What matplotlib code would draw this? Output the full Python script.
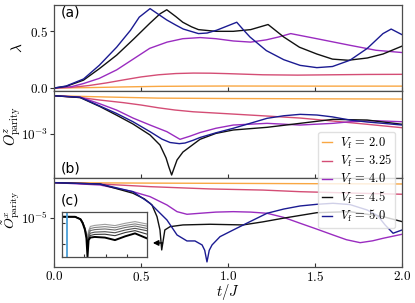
import matplotlib
matplotlib.use("Agg")
import matplotlib.pyplot as plt
import numpy as np
from matplotlib.ticker import NullLocator

plt.rcParams["mathtext.fontset"] = "cm"
plt.rcParams["axes.edgecolor"] = "0.3"
plt.rcParams["axes.linewidth"] = 0.9

# ---- data ----
v_labels = ["2.0", "3.25", "4.0", "4.5", "5.0"]
colors = ["#f9a743", "#d44d75", "#9a2cc0", "#111111", "#1b1b92"]

# (a) lambda
lam_t_20 = [0, 0.2, 0.4, 0.6, 0.8, 1.0, 1.5, 2.0]
lam_20 = [0, 0.004, 0.01, 0.015, 0.017, 0.018, 0.017, 0.017]
lam_t_325 = [0, 0.1, 0.2, 0.3, 0.4, 0.5, 0.6, 0.7, 0.8, 0.9, 1.0, 1.2, 1.4, 1.6, 1.8, 2.0]
lam_325 = [0, 0.006, 0.022, 0.045, 0.072, 0.098, 0.117, 0.128, 0.132, 0.131, 0.127, 0.117,
           0.114, 0.117, 0.12, 0.121]
lam_t_40 = [0, 0.1, 0.17, 0.26, 0.36, 0.46, 0.55, 0.65, 0.74, 0.84, 0.93, 1.03, 1.13, 1.22,
            1.29, 1.36, 1.51, 1.70, 1.85, 2.0]
lam_40 = [0, 0.012, 0.04, 0.085, 0.16, 0.26, 0.35, 0.405, 0.435, 0.445, 0.435, 0.415, 0.405,
          0.425, 0.45, 0.48, 0.435, 0.377, 0.333, 0.313]
lam_t_45 = [0, 0.07, 0.17, 0.26, 0.36, 0.46, 0.55, 0.61, 0.648, 0.70, 0.74, 0.79, 0.83, 0.93,
            1.03, 1.13, 1.23, 1.32, 1.41, 1.51, 1.60, 1.69, 1.80, 1.89, 2.0]
lam_45 = [0, 0.015, 0.07, 0.17, 0.29, 0.435, 0.57, 0.655, 0.69, 0.63, 0.58, 0.54, 0.515, 0.50,
          0.50, 0.515, 0.56, 0.45, 0.36, 0.30, 0.255, 0.245, 0.265, 0.30, 0.37]
lam_t_50 = [0, 0.07, 0.17, 0.26, 0.36, 0.44, 0.49, 0.552, 0.60, 0.648, 0.70, 0.743, 0.83, 0.88,
            0.935, 1.05, 1.09, 1.126, 1.22, 1.32, 1.414, 1.51, 1.60, 1.70, 1.80, 1.89, 1.937, 2.0]
lam_50 = [0, 0.018, 0.08, 0.2, 0.36, 0.51, 0.625, 0.70, 0.65, 0.60, 0.555, 0.52, 0.48, 0.485,
          0.51, 0.58, 0.51, 0.45, 0.33, 0.25, 0.20, 0.18, 0.19, 0.245, 0.35, 0.48, 0.52, 0.47]

# (b) log10 of O^z_parity
oz_t_20 = [0, 0.3, 0.6, 1.0, 1.5, 2.0]
oz_20 = [-2.328, -2.35, -2.37, -2.377, -2.382, -2.386]
oz_t_325 = [0, 0.15, 0.264, 0.4, 0.5, 0.6, 0.695, 0.8, 0.897, 1.0, 1.224, 1.414, 1.603, 1.8, 2.0]
oz_325 = [-2.328, -2.36, -2.404, -2.45, -2.491, -2.54, -2.579, -2.61, -2.627, -2.645, -2.685,
          -2.72, -2.773, -2.83, -2.89]
oz_t_40 = [0, 0.15, 0.264, 0.36, 0.454, 0.552, 0.649, 0.724, 0.78, 0.839, 0.93, 1.03, 1.224,
           1.414, 1.603, 1.70, 1.845, 2.0]
oz_40 = [-2.328, -2.351, -2.47, -2.58, -2.72, -2.843, -2.96, -3.094, -3.04, -2.975, -2.90,
         -2.843, -2.813, -2.843, -2.813, -2.785, -2.767, -2.785]
oz_t_45 = [0, 0.15, 0.264, 0.36, 0.454, 0.552, 0.609, 0.644, 0.66, 0.676, 0.69, 0.707, 0.741,
           0.839, 0.93, 1.03, 1.224, 1.414, 1.603, 1.799, 2.0]
oz_45 = [-2.328, -2.36, -2.518, -2.67, -2.825, -3.018, -3.194, -3.422, -3.58, -3.721, -3.6,
         -3.457, -3.317, -3.094, -2.99, -2.93, -2.883, -2.813, -2.743, -2.755, -2.83]
oz_t_50 = [0, 0.15, 0.264, 0.36, 0.454, 0.552, 0.62, 0.667, 0.72, 0.753, 0.8, 0.839, 0.93, 1.03,
           1.13, 1.224, 1.32, 1.414, 1.511, 1.60, 1.70, 1.80, 1.891, 2.0]
oz_50 = [-2.328, -2.355, -2.509, -2.64, -2.785, -2.96, -3.09, -3.15, -3.17, -3.159, -3.11,
         -3.062, -2.98, -2.90, -2.81, -2.725, -2.68, -2.655, -2.667, -2.70, -2.755, -2.79,
         -2.813, -2.843]

# (c) log10 of tilde O^x_parity
ox_t_20 = [0, 0.5, 1.0, 1.5, 2.0]
ox_20 = [-4.367, -4.375, -4.38, -4.386, -4.391]
ox_t_325 = [0, 0.264, 0.552, 0.897, 1.2, 1.414, 1.7, 2.0]
ox_325 = [-4.367, -4.391, -4.439, -4.48, -4.50, -4.529, -4.553, -4.575]
ox_t_40 = [0, 0.264, 0.454, 0.552, 0.649, 0.707, 0.764, 0.839, 0.93, 1.03, 1.13, 1.224, 1.32,
           1.414, 1.51, 1.603, 1.68, 1.759, 1.83, 1.891, 2.0]
ox_40 = [-4.367, -4.409, -4.529, -4.618, -4.767, -4.887, -4.934, -4.916, -4.895, -4.887,
         -4.895, -4.916, -4.99, -5.095, -5.2, -5.305, -5.39, -5.443, -5.41, -5.364, -5.292]
ox_t_45 = [0, 0.264, 0.454, 0.52, 0.563, 0.592, 0.609, 0.619, 0.637, 0.667, 0.741, 0.897,
           1.086, 1.2, 1.316, 1.511, 1.70, 1.891, 2.0]
ox_45 = [-4.367, -4.391, -4.557, -4.659, -4.767, -4.977, -5.215, -5.573, -5.215, -5.156,
         -5.125, -5.113, -5.125, -5.07, -5.005, -4.905, -4.887, -4.977, -5.066]
ox_t_50 = [0, 0.264, 0.454, 0.552, 0.649, 0.707, 0.764, 0.81, 0.851, 0.866, 0.879, 0.892,
           0.908, 0.954, 1.03, 1.13, 1.224, 1.32, 1.414, 1.511, 1.603, 1.70, 1.799, 1.86,
           1.902, 1.948, 2.0]
ox_50 = [-4.367, -4.391, -4.529, -4.737, -5.036, -5.305, -5.412, -5.412, -5.484, -5.58,
         -5.788, -5.58, -5.484, -5.335, -5.215, -5.06, -4.916, -4.84, -4.785, -4.755, -4.737,
         -4.76, -4.857, -4.96, -5.125, -5.274, -5.215]

# inset (log10 values)
in_u = [0, 0.6, 0.85, 0.95, 1.05, 1.12, 1.17, 1.22, 1.3, 1.5, 1.97, 2.43, 2.9, 3.35, 3.88]
in_1 = [0.314, 0.31, 0.21, 0.06, -0.2, -0.45, -0.7, -0.35, -0.15, -0.1, -0.05, -0.11, 0.0, 0.08, -0.03]
in_2 = [0.314, 0.31, 0.21, 0.05, -0.22, -0.5, -0.8, -0.45, -0.25, -0.2, -0.16, -0.21, -0.1, -0.03, -0.13]
in_3 = [0.314, 0.31, 0.2, 0.04, -0.24, -0.55, -0.95, -0.55, -0.35, -0.3, -0.27, -0.32, -0.2, -0.13, -0.24]
in_4 = [0.314, 0.31, 0.2, 0.03, -0.26, -0.6, -1.1, -0.65, -0.47, -0.42, -0.40, -0.45, -0.32, -0.24, -0.35]
in_5 = [0.314, 0.31, 0.19, 0.02, -0.28, -0.65, -1.25, -0.75, -0.58, -0.53, -0.52, -0.59, -0.44, -0.35, -0.51]
in_k = [0.314, 0.31, 0.19, 0.0, -0.3, -0.7, -1.6, -0.8, -0.68, -0.65, -0.68, -0.80, -0.62, -0.48, -0.71]
in_marker_u = 0.23

x_ticks = [0.0, 0.5, 1.0, 1.5, 2.0]

lam_series = [(lam_t_20, lam_20), (lam_t_325, lam_325), (lam_t_40, lam_40),
              (lam_t_45, lam_45), (lam_t_50, lam_50)]
oz_series = [(oz_t_20, oz_20), (oz_t_325, oz_325), (oz_t_40, oz_40),
             (oz_t_45, oz_45), (oz_t_50, oz_50)]
ox_series = [(ox_t_20, ox_20), (ox_t_325, ox_325), (ox_t_40, ox_40),
             (ox_t_45, ox_45), (ox_t_50, ox_50)]

fig = plt.figure(figsize=(4.15, 3.03), dpi=100)
gs = fig.add_gridspec(3, 1, left=0.130, right=0.969, top=0.985, bottom=0.119,
                      hspace=0, height_ratios=[86.5, 86.7, 89.3])
ax_a = fig.add_subplot(gs[0])
ax_b = fig.add_subplot(gs[1], sharex=ax_a)
ax_c = fig.add_subplot(gs[2], sharex=ax_a)

handles = []
for (t, y), c in zip(lam_series, colors):
    ax_a.plot(t, y, color=c, lw=1.0)
for (t, y), c, lab in zip(oz_series, colors, v_labels):
    (h,) = ax_b.plot(t, 10.0 ** np.array(y), color=c, lw=1.0,
                     label=r"$V_{\rm f}\,=\,%s$" % lab)
    handles.append(h)
for (t, y), c in zip(ox_series, colors):
    ax_c.plot(t, 10.0 ** np.array(y), color=c, lw=1.0)

ax_a.set_ylim(-0.026, 0.736)
ax_a.set_yticks([0.0, 0.5])
ax_a.set_yticklabels([r"$0.0$", r"$0.5$"])

ax_b.set_yscale("log")
ax_b.set_ylim(10 ** -3.768, 10 ** -2.245)
ax_b.set_yticks([1e-3])
ax_b.set_yticklabels([r"$10^{-3}$"])

ax_c.set_yscale("log")
ax_c.set_ylim(10 ** -5.878, 10 ** -4.278)
ax_c.set_yticks([1e-5])
ax_c.set_yticklabels([r"$10^{-5}$"])

ax_c.set_xlim(0, 2.0)
ax_c.set_xticks(x_ticks)
ax_c.set_xticklabels([r"$%.1f$" % v for v in x_ticks])

for ax in (ax_a, ax_b, ax_c):
    ax.yaxis.set_minor_locator(NullLocator())
    ax.tick_params(axis="x", direction="in", length=3, labelsize=9.5, color="0.2", pad=2)
    ax.tick_params(axis="y", direction="out", length=3, labelsize=9.5, color="0.2", pad=1)
for ax in (ax_a, ax_b):
    plt.setp(ax.get_xticklabels(), visible=False)

ax_a.set_ylabel(r"$\lambda$", fontsize=11)
ax_b.set_ylabel(r"$O^z_{\rm parity}$", fontsize=10.5)
ax_c.set_ylabel(r"$\tilde{O}^x_{\rm parity}$", fontsize=10)
ax_a.yaxis.set_label_coords(-0.085, 0.5)
ax_b.yaxis.set_label_coords(-0.088, 0.6)
ax_c.yaxis.set_label_coords(-0.093, 0.64)
ax_c.set_xlabel(r"$t/J$", fontsize=10.5, labelpad=-1)

ax_a.text(0.02, 0.86, "(a)", transform=ax_a.transAxes, fontsize=10, family="DejaVu Sans")
ax_b.text(0.02, 0.06, "(b)", transform=ax_b.transAxes, fontsize=10, family="DejaVu Sans")
ax_c.text(0.02, 0.70, "(c)", transform=ax_c.transAxes, fontsize=10, family="DejaVu Sans")

# arrow pointing to inset
ax_c.annotate("", xy=(0.552, 10 ** -5.448), xytext=(0.64, 10 ** -5.448),
              arrowprops=dict(arrowstyle="-|>", color="k", lw=1.0, mutation_scale=8))

# inset
ins = fig.add_axes([62 / 415, 1 - 257 / 303, 85 / 415, 45 / 303])
gray_curves = [in_1, in_2, in_3, in_4, in_5]
gray_cols = ["0.62", "0.52", "0.42", "0.32", "0.22"]
for y, c in zip(gray_curves, gray_cols):
    ins.plot(in_u, 10.0 ** np.array(y), color=c, lw=0.8)
ins.plot(in_u, 10.0 ** np.array(in_k), color="k", lw=1.4)
ins.axvline(in_marker_u, color="#4a9fd8", lw=1.3)
ins.set_yscale("log")
ins.set_ylim(10 ** -1.605, 10 ** 0.538)
ins.set_xlim(0, 3.9)
ins.set_xticks([0, 1, 2, 3])
ins.set_yticks([1e-1, 1e0])
ins.yaxis.set_minor_locator(NullLocator())
ins.tick_params(direction="in", length=2.5, labelleft=False, labelbottom=False, color="0.2")

fig.legend(handles=handles, loc="upper right", bbox_to_anchor=(0.968, 0.585),
           fontsize=9, framealpha=0.8, handlelength=0.8, handletextpad=0.6,
           borderpad=0.3, labelspacing=0.2, edgecolor="0.85")

fig.savefig("out.png", dpi=100)
